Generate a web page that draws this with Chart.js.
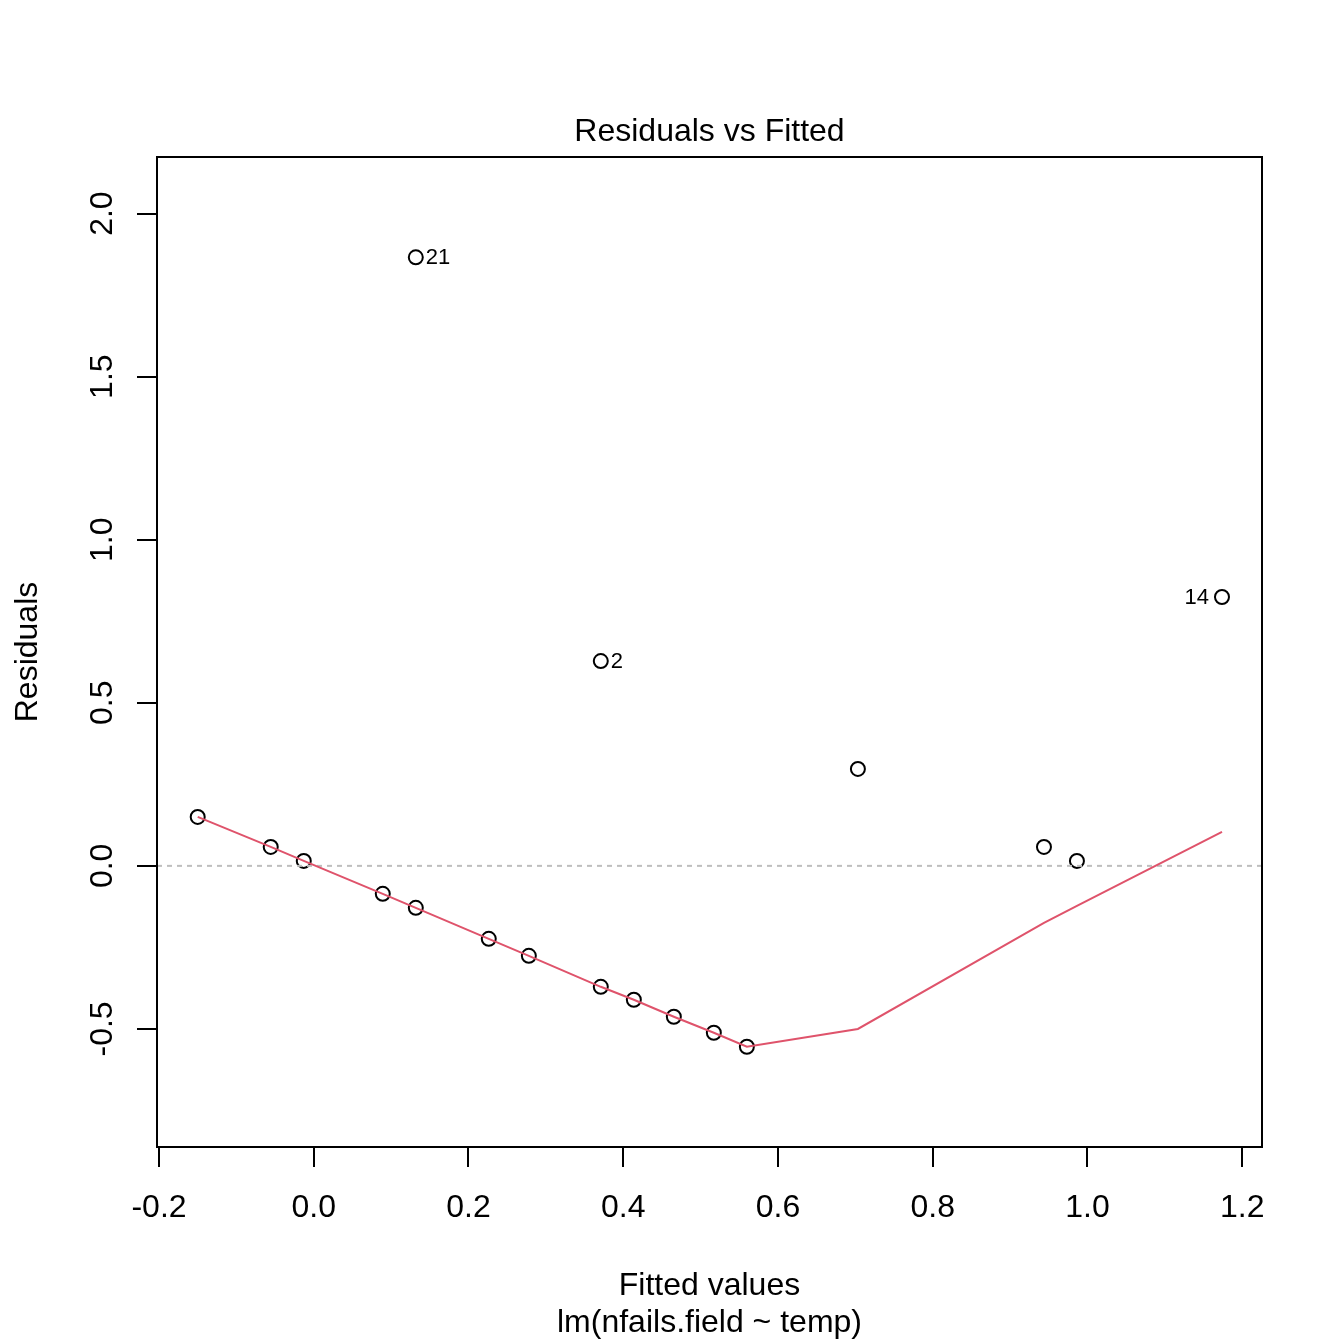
<!DOCTYPE html>
<html>
<head>
<meta charset="utf-8">
<title>Residuals vs Fitted</title>
<script src="https://cdn.jsdelivr.net/npm/chart.js@4/dist/chart.umd.min.js"></script>
<style>
  body { margin: 0; background: #fff; }
  #wrap { width: 1344px; height: 1344px; }
</style>
</head>
<body>
<div id="wrap"><canvas id="grafica" width="1344" height="1344"></canvas></div>
<script>
// valores
var ajustados = [-0.150, -0.0556, -0.0129, 0.0892, 0.1319, 0.1319, 0.2262, 0.278, 0.371, 0.371,
                 0.4137, 0.4654, 0.5171, 0.5598, 0.7033, 0.9438, 0.9864, 1.1739]
var residuos  = [0.150, 0.0582, 0.0153, -0.0858, -0.1287, 1.866, -0.2237, -0.2758, -0.3708, 0.628,
                 -0.4106, -0.4627, -0.5117, -0.5546, 0.2972, 0.0582, 0.0153, 0.8243]

// puntos con etiqueta (indice en los arrays de arriba)
var etiquetasIdx = [5, 9, 17]
var etiquetasTxt = ['21', '2', '14']

// curva suavizada (lowess)
var suaveX = [-0.150, -0.0556, -0.0129, 0.0892, 0.1319, 0.2262, 0.278, 0.371, 0.4137, 0.4654,
              0.5171, 0.5598, 0.7033, 0.9438, 0.9864, 1.1739]
var suaveY = [0.150, 0.0582, 0.0153, -0.0858, -0.1287, -0.2237, -0.2758, -0.3708, -0.4106, -0.4627,
              -0.5117, -0.5546, -0.500, -0.175, -0.123, 0.104]

var xTicks = [-0.2, 0.0, 0.2, 0.4, 0.6, 0.8, 1.0, 1.2]
var yTicks = [-0.5, 0.0, 0.5, 1.0, 1.5, 2.0]

var xMin = -0.2026, xMax = 1.2256
var yMin = -0.862, yMax = 2.1735

var titulo = 'Residuals vs Fitted'
var tituloX = 'Fitted values'
var subtitulo = 'lm(nfails.field ~ temp)'
var tituloY = 'Residuals'

var fuente = '"Liberation Sans", Arial, Helvetica, sans-serif'

var puntos = ajustados.map(function (x, i) { return { x: x, y: residuos[i] } })
var curva = suaveX.map(function (x, i) { return { x: x, y: suaveY[i] } })

var textos = {
    id: 'textos',
    afterDraw: function (chart) {
        var ctx = chart.ctx
        var area = chart.chartArea
        var sx = chart.scales.x
        var sy = chart.scales.y
        var cx = (area.left + area.right) / 2
        var cy = (area.top + area.bottom) / 2

        ctx.save()
        // caja
        ctx.strokeStyle = '#000'
        ctx.lineWidth = 2
        ctx.strokeRect(area.left, area.top, area.right - area.left, area.bottom - area.top)

        ctx.fillStyle = '#000'
        ctx.font = '32px ' + fuente
        ctx.textBaseline = 'alphabetic'
        ctx.textAlign = 'center'
        ctx.fillText(titulo, cx, 141)
        ctx.fillText(tituloX, cx, 1295)
        ctx.fillText(subtitulo, cx, 1332)

        // etiquetas del eje x
        xTicks.forEach(function (v) {
            ctx.fillText(v.toFixed(1), sx.getPixelForValue(v), 1217)
        })

        // etiquetas del eje y (giradas)
        yTicks.forEach(function (v) {
            ctx.save()
            ctx.translate(112, sy.getPixelForValue(v))
            ctx.rotate(-Math.PI / 2)
            ctx.fillText(v.toFixed(1), 0, 0)
            ctx.restore()
        })

        ctx.save()
        ctx.translate(37, cy)
        ctx.rotate(-Math.PI / 2)
        ctx.fillText(tituloY, 0, 0)
        ctx.restore()

        // etiquetas de puntos
        ctx.font = '22px ' + fuente
        ctx.textBaseline = 'middle'
        var medio = (Math.min.apply(null, ajustados) + Math.max.apply(null, ajustados)) / 2
        etiquetasIdx.forEach(function (idx, k) {
            var px = sx.getPixelForValue(ajustados[idx])
            var py = sy.getPixelForValue(residuos[idx])
            if (ajustados[idx] > medio) {
                ctx.textAlign = 'right'
                ctx.fillText(etiquetasTxt[k], px - 13, py + 1)
            } else {
                ctx.textAlign = 'left'
                ctx.fillText(etiquetasTxt[k], px + 10, py + 1)
            }
        })
        ctx.restore()
    }
}

var graf = new Chart('grafica', {
    type: 'scatter',
    data: {
        datasets: [{
            type: 'line',
            data: curva,
            borderColor: '#DF536B',
            borderWidth: 2,
            pointRadius: 0,
            fill: false,
            tension: 0
        }, {
            type: 'line',
            data: [{ x: xMin, y: 0 }, { x: xMax, y: 0 }],
            borderColor: '#BEBEBE',
            borderWidth: 2,
            borderDash: [5, 5],
            pointRadius: 0,
            fill: false
        }, {
            data: puntos,
            pointRadius: 7,
            pointBorderWidth: 2,
            pointBorderColor: '#000',
            pointBackgroundColor: 'rgba(0,0,0,0)',
            pointHoverRadius: 7
        }]
    },
    options: {
        responsive: false,
        animation: false,
        events: [],
        layout: { padding: { top: 157, right: 82, left: 0, bottom: 0 } },
        plugins: {
            legend: { display: false },
            tooltip: { enabled: false }
        },
        scales: {
            x: {
                type: 'linear',
                min: xMin,
                max: xMax,
                afterBuildTicks: function (s) { s.ticks = xTicks.map(function (v) { return { value: v } }) },
                afterFit: function (s) { s.height = 197 },
                ticks: { display: false },
                border: { display: false },
                grid: { drawOnChartArea: false, drawTicks: true, tickLength: 20, color: '#000', lineWidth: 2 }
            },
            y: {
                type: 'linear',
                min: yMin,
                max: yMax,
                afterBuildTicks: function (s) { s.ticks = yTicks.map(function (v) { return { value: v } }) },
                afterFit: function (s) { s.width = 157 },
                ticks: { display: false },
                border: { display: false },
                grid: { drawOnChartArea: false, drawTicks: true, tickLength: 20, color: '#000', lineWidth: 2 }
            }
        }
    },
    plugins: [textos]
})
</script>
</body>
</html>
